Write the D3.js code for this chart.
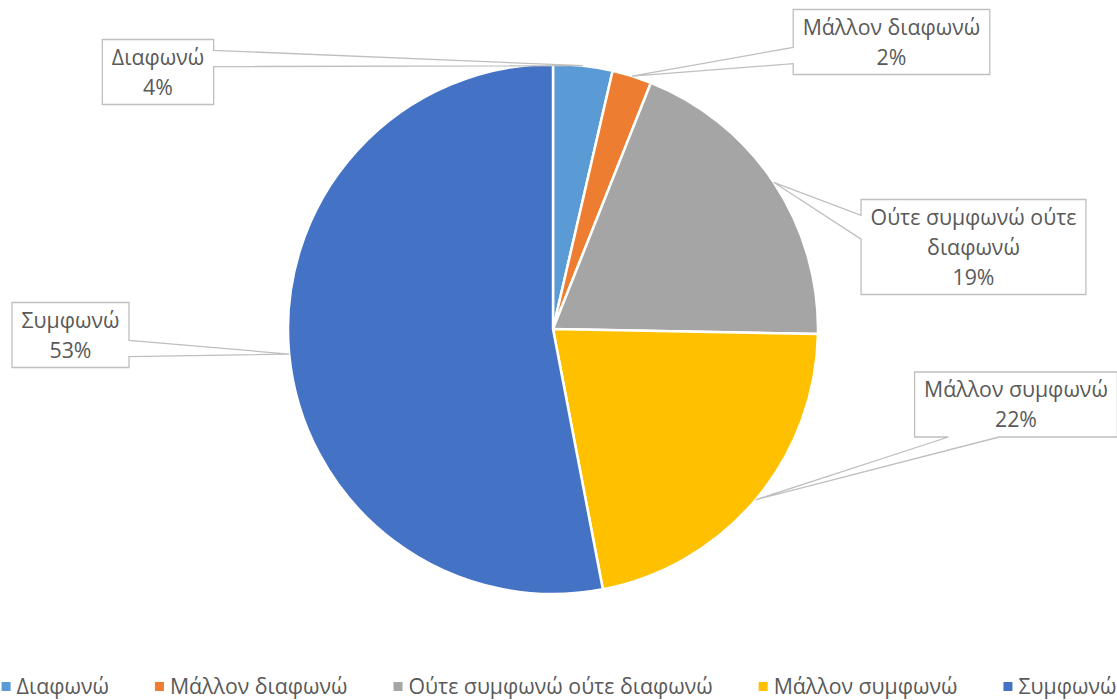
<!DOCTYPE html>
<html>
<head>
<meta charset="utf-8">
<script src="https://cdn.jsdelivr.net/npm/d3@7"></script>
<style>
  html, body { margin: 0; padding: 0; background: #ffffff; overflow: hidden; }
  svg text { font-family: "Open Sans", "Noto Sans", sans-serif; fill: #595959; }
</style>
</head>
<body>
<svg id="chart" width="1117" height="700"></svg>
<script>
// Survey responses (number of respondents per answer)
const categories = ["Διαφωνώ", "Μάλλον διαφωνώ", "Ούτε συμφωνώ ούτε διαφωνώ", "Μάλλον συμφωνώ", "Συμφωνώ"];
const counts = [3, 2, 16, 18, 44];
const colors = ["#5B9BD5", "#ED7D31", "#A5A5A5", "#FFC000", "#4472C4"];
// Category text as wrapped inside each callout
const labelLines = [["Διαφωνώ"], ["Μάλλον διαφωνώ"], ["Ούτε συμφωνώ ούτε", "διαφωνώ"], ["Μάλλον συμφωνώ"], ["Συμφωνώ"]];

// Layout
const W = 1117, H = 700;
const cx = 553, cy = 329, radius = 265;
const fontSize = 21.3;
const lineH = 30;
const calloutCenters = [[158, 72], [891.5, 42], [973.5, 247], [1016, 404.5], [70.5, 335]];

const svg = d3.select("#chart");
const total = d3.sum(counts);
const pct = d3.format(".0%");

const data = categories.map((c, i) => ({ name: c, value: counts[i], color: colors[i], lines: labelLines[i] }));

const pie = d3.pie().value(d => d.value).sort(null);
const arc = d3.arc().innerRadius(0).outerRadius(radius);
const arcs = pie(data);

const g = svg.append("g").attr("transform", `translate(${cx},${cy})`);
g.selectAll("path.slice")
  .data(arcs)
  .join("path")
  .attr("class", "slice")
  .attr("d", arc)
  .attr("fill", d => d.data.color)
  .attr("stroke", "#ffffff")
  .attr("stroke-width", 2.5)
  .attr("stroke-linejoin", "round");

// Rectangular callout with a wedge pointing at (tx, ty)
function calloutPath(x0, y0, w, h, tx, ty) {
  const hc = x0 + w / 2, vc = y0 + h / 2;
  const dx = tx - hc, dy = ty - vc;
  const dq = dx * h / w;
  const xg1 = dx > 0 ? 7 : 2, xg2 = dx > 0 ? 10 : 5;
  const yg1 = dy > 0 ? 7 : 2, yg2 = dy > 0 ? 10 : 5;
  const x1 = x0 + w * xg1 / 12, x2 = x0 + w * xg2 / 12;
  const y1 = y0 + h * yg1 / 12, y2 = y0 + h * yg2 / 12;
  const vertical = Math.abs(dy) > Math.abs(dq);
  const p = d3.path();
  p.moveTo(x0, y0);
  if (vertical && dy < 0) { p.lineTo(x1, y0); p.lineTo(tx, ty); p.lineTo(x2, y0); }
  p.lineTo(x0 + w, y0);
  if (!vertical && dx > 0) { p.lineTo(x0 + w, y1); p.lineTo(tx, ty); p.lineTo(x0 + w, y2); }
  p.lineTo(x0 + w, y0 + h);
  if (vertical && dy > 0) { p.lineTo(x2, y0 + h); p.lineTo(tx, ty); p.lineTo(x1, y0 + h); }
  p.lineTo(x0, y0 + h);
  if (!vertical && dx < 0) { p.lineTo(x0, y2); p.lineTo(tx, ty); p.lineTo(x0, y1); }
  p.closePath();
  return p.toString();
}

// Data labels
const labels = svg.append("g");
arcs.forEach((a, i) => {
  const lines = a.data.lines.concat([pct(a.data.value / total)]);
  const [lx, ly] = calloutCenters[i];
  const lg = labels.append("g");
  const shape = lg.append("path");
  const texts = lg.selectAll("text")
    .data(lines)
    .join("text")
    .attr("x", lx)
    .attr("y", (d, k) => ly + (k - (lines.length - 1) / 2) * lineH)
    .attr("dy", "0.36em")
    .attr("text-anchor", "middle")
    .attr("font-size", fontSize)
    .text(d => d);
  let tw = 0;
  texts.each(function () { tw = Math.max(tw, this.getComputedTextLength()); });
  const bw = tw + 19, bh = lines.length * lineH + 5;
  const mid = (a.startAngle + a.endAngle) / 2;
  const tx = cx + radius * Math.sin(mid), ty = cy - radius * Math.cos(mid);
  shape.attr("d", calloutPath(lx - bw / 2, ly - bh / 2, bw, bh, tx, ty))
    .attr("fill", "#ffffff")
    .attr("stroke", "#BFBFBF")
    .attr("stroke-width", 1.3);
});

// Legend
const legend = svg.append("g");
const items = legend.selectAll("g.item")
  .data(data)
  .join("g")
  .attr("class", "item");
items.append("rect")
  .attr("width", 9).attr("height", 9)
  .attr("y", 682)
  .attr("fill", d => d.color);
items.append("text")
  .attr("x", 15)
  .attr("y", 693.5)
  .attr("font-size", fontSize)
  .text(d => d.name);
const widths = [];
items.select("text").each(function () { widths.push(15 + this.getComputedTextLength()); });
const gap = 46;
const legendW = d3.sum(widths) + gap * (widths.length - 1);
let x = 559 - legendW / 2;
items.each(function (d, i) {
  d3.select(this).attr("transform", `translate(${x},0)`);
  x += widths[i] + gap;
});
</script>
</body>
</html>
